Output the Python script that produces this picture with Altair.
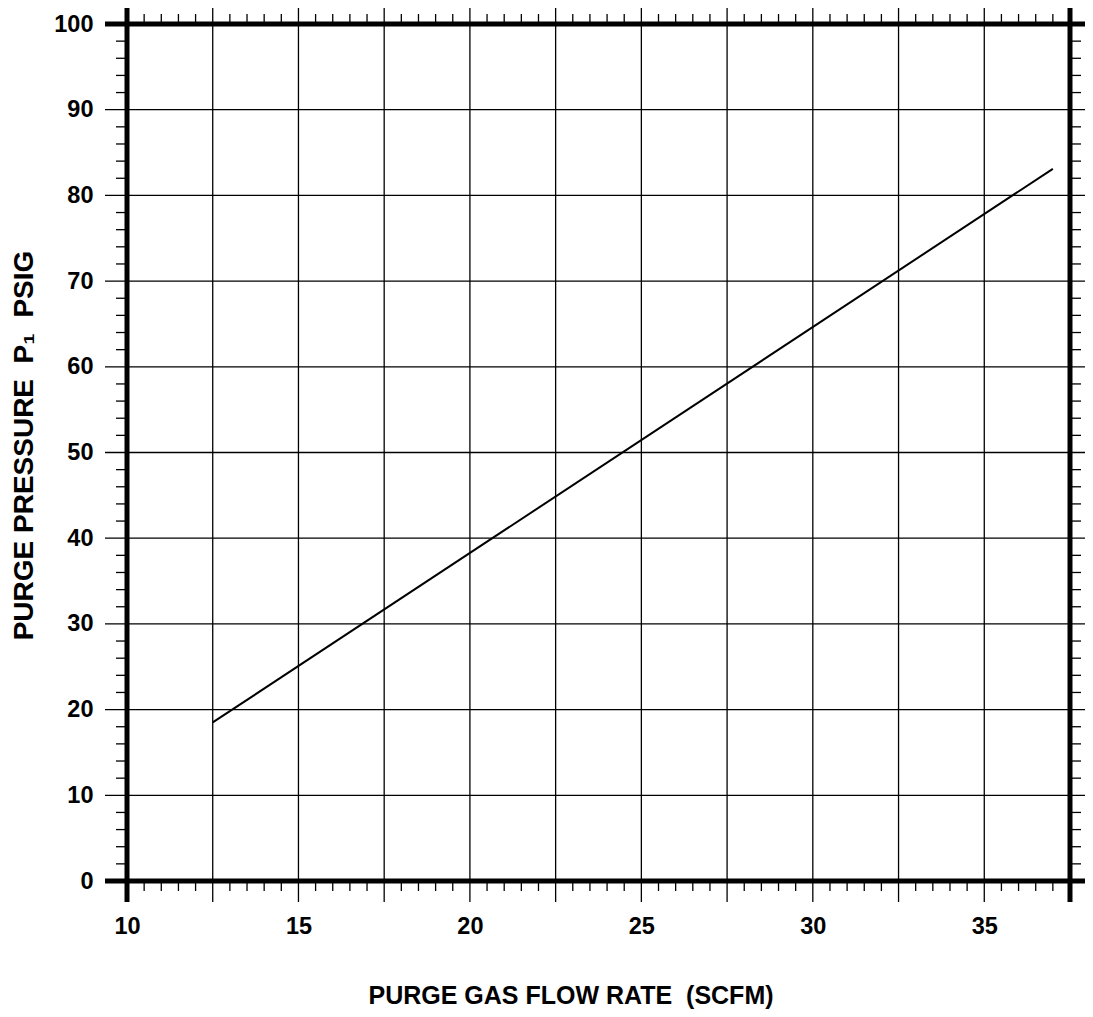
import altair as alt
import pandas as pd

# ---- data ----
flow = [12.5, 37.0]            # SCFM
pressure = [18.5, 83.1]        # PSIG

x_grid = [12.5, 15, 17.5, 20, 22.5, 25, 27.5, 30, 32.5, 35]
x_minor = [10.5, 11, 11.5, 12, 13, 13.5, 14, 14.5, 15.5, 16, 16.5, 17,
           18, 18.5, 19, 19.5, 20.5, 21, 21.5, 22, 23, 23.5, 24, 24.5,
           25.5, 26, 26.5, 27, 28, 28.5, 29, 29.5, 30.5, 31, 31.5, 32,
           33, 33.5, 34, 34.5, 35.5, 36, 36.5, 37]
y_grid = [10, 20, 30, 40, 50, 60, 70, 80, 90]
y_minor = [2, 4, 6, 8, 12, 14, 16, 18, 22, 24, 26, 28, 32, 34, 36, 38,
           42, 44, 46, 48, 52, 54, 56, 58, 62, 64, 66, 68, 72, 74, 76, 78,
           82, 84, 86, 88, 92, 94, 96, 98]
x_frame = [10, 37.5]
y_frame = [0, 100]
x_labels = [10, 15, 20, 25, 30, 35]
y_labels = [0, 10, 20, 30, 40, 50, 60, 70, 80, 90, 100]

W, H = 943, 857
EXT = 21
FONT = "Liberation Sans"
INK = "#000000"

xs = alt.Scale(domain=[10, 37.5], nice=False, zero=False)
ys = alt.Scale(domain=[0, 100], nice=False, zero=False)

line_df = pd.DataFrame({"flow": flow, "pressure": pressure})
xg_df = pd.DataFrame({"x": x_grid})
xm_df = pd.DataFrame({"x": x_minor})
yg_df = pd.DataFrame({"y": y_grid})
ym_df = pd.DataFrame({"y": y_minor})
xf_df = pd.DataFrame({"x": x_frame})
yf_df = pd.DataFrame({"y": y_frame})

x_axis = alt.Axis(
    values=x_labels, grid=False, domain=False, ticks=False, tickSize=0,
    labelFont=FONT, labelFontSize=23.5, labelFontWeight="bold", labelColor=INK,
    labelPadding=33, labelFlush=False, labelOverlap=False,
    title="PURGE GAS FLOW RATE\u00a0 (SCFM)", titleFont=FONT, titleFontSize=25,
    titleFontWeight="bold", titleColor=INK, titleX=443.5, titleY=122,
    titleAnchor="middle", titleBaseline="alphabetic", titleAlign="center")
y_axis = alt.Axis(
    values=y_labels, grid=False, domain=False, ticks=False, tickSize=0,
    labelFont=FONT, labelFontSize=23.5, labelFontWeight="bold", labelColor=INK,
    labelPadding=34, labelFlush=False, labelOverlap=False,
    title="PURGE PRESSURE\u00a0 P\u2081\u00a0 PSIG", titleFont=FONT,
    titleFontSize=28, titleFontWeight="bold", titleColor=INK,
    titleAngle=270, titleX=-103, titleY=421, titleAlign="center",
    titleBaseline="middle")


def X(field):
    return alt.X(field, type="quantitative", scale=xs, axis=x_axis)


def Y(field):
    return alt.Y(field, type="quantitative", scale=ys, axis=y_axis)


# vertical grid lines (extend past frame)
vgrid = alt.Chart(xg_df).mark_rule(color=INK, strokeWidth=1.3).encode(
    x=X("x"), y=alt.value(-EXT), y2=alt.value(H + EXT))
# horizontal grid lines
hgrid = alt.Chart(yg_df).mark_rule(color=INK, strokeWidth=1.3).encode(
    y=Y("y"), x=alt.value(-EXT - 1), x2=alt.value(W + EXT + 1))

# minor ticks
xmin_bot = alt.Chart(xm_df).mark_rule(color=INK, strokeWidth=1.3).encode(
    x=X("x"), y=alt.value(H), y2=alt.value(H + 10))
xmin_top = alt.Chart(xm_df).mark_rule(color=INK, strokeWidth=1.3).encode(
    x=X("x"), y=alt.value(0), y2=alt.value(-10))
ymin_left = alt.Chart(ym_df).mark_rule(color=INK, strokeWidth=1.3).encode(
    y=Y("y"), x=alt.value(0), x2=alt.value(-11))
ymin_right = alt.Chart(ym_df).mark_rule(color=INK, strokeWidth=1.3).encode(
    y=Y("y"), x=alt.value(W), x2=alt.value(W + 11))

# heavy frame
vframe = alt.Chart(xf_df).mark_rule(color=INK, strokeWidth=5).encode(
    x=X("x"), y=alt.value(-EXT), y2=alt.value(H + EXT))
hframe = alt.Chart(yf_df).mark_rule(color=INK, strokeWidth=5).encode(
    y=Y("y"), x=alt.value(-EXT - 1), x2=alt.value(W + EXT + 1))

line = alt.Chart(line_df).mark_line(color=INK, strokeWidth=2).encode(
    x=X("flow"), y=Y("pressure"))

chart = alt.layer(
    vgrid, hgrid, xmin_bot, xmin_top, ymin_left, ymin_right,
    vframe, hframe, line
).properties(
    width=W, height=H,
    autosize=alt.AutoSizeParams(type="none"),
    padding={"left": 119, "top": 16, "right": 15, "bottom": 128},
).configure_view(stroke=None).configure(background="white")

chart.save("out.html", embed_options={"renderer": "svg", "actions": False})
